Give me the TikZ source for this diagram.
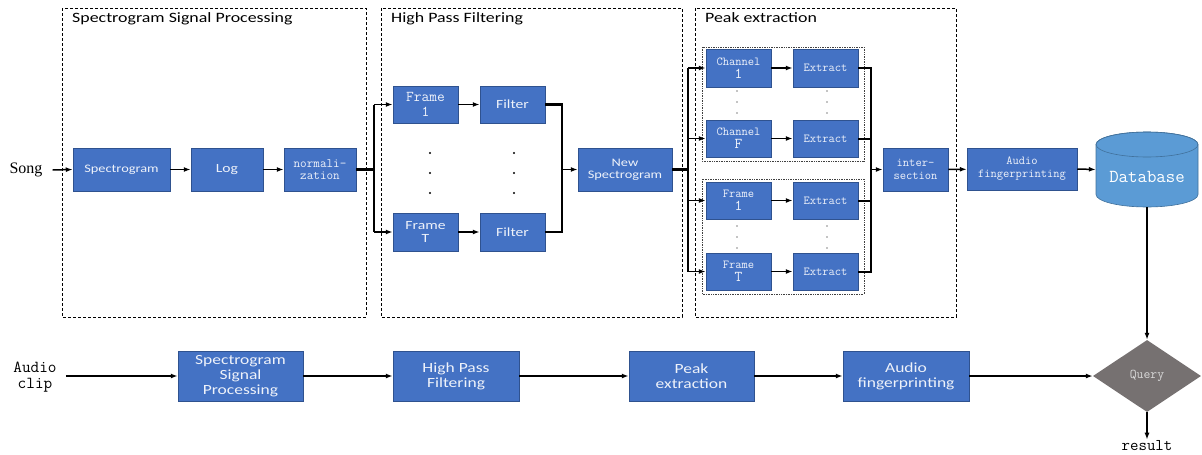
\documentclass[tikz,border=0pt]{standalone}
\usepackage{fontspec}
\setmainfont{Liberation Serif}
\newfontfamily\uisans[FakeStretch=1.25]{Carlito}
\usetikzlibrary{arrows.meta,shapes.geometric}

\definecolor{boxblue}{HTML}{4472C4}
\definecolor{boxedge}{HTML}{2F528F}
\definecolor{dbblue}{HTML}{5B9BD5}
\definecolor{dbedge}{HTML}{41719C}
\definecolor{querygray}{HTML}{767171}
\definecolor{boxtext}{HTML}{EEF2FA}

\begin{document}
\begin{tikzpicture}[x=1pt,y=-1pt,
  proc/.style={fill=boxblue, draw=boxedge, line width=0.5pt, text=boxtext,
    align=center, inner sep=0pt},
  wh/.style 2 args={minimum width=#1pt, minimum height=#2pt},
  sansS/.style={font=\uisans\fontsize{11.5}{12}\selectfont},
  sansM/.style={font=\uisans\fontsize{12.5}{13}\selectfont},
  sansL/.style={font=\uisans\fontsize{14}{15}\selectfont},
  monoS/.style={font=\ttfamily\fontsize{12.2}{13}\selectfont},
  monoM/.style={font=\ttfamily\fontsize{12.8}{12}\selectfont},
  title/.style={font=\uisans\fontsize{14.3}{15}\selectfont, anchor=base west, inner sep=0pt},
  stage/.style={draw, dashed, dash pattern=on 3pt off 2pt, line width=1pt},
  group/.style={draw=black!75, densely dotted, line width=0.7pt},
  arr/.style={-{Latex[length=7pt,width=5pt]}, line width=1.5pt},
  bus/.style={line width=2.4pt},
  dot/.style={fill=black}
]
\useasboundingbox (0,0) rectangle (1202,455);

% ---------- stage frames ----------
\draw[stage] (62,8) rectangle (366,317);
\draw[stage] (381,8) rectangle (682,317);
\draw[stage] (695,8) rectangle (956,317);
\node[title] at (72,23) {Spectrogram Signal Processing};
\node[title] at (391,23) {High Pass Filtering};
\node[title] at (705,23) {Peak extraction};

% ---------- spectrogram signal processing ----------
\node[font=\fontsize{16}{16}\selectfont, inner sep=0pt] (song) at (26,170) {Song};
\node[proc, wh={97}{43}, sansS] (spec) at (121.5,169.5) {Spectrogram};
\node[proc, wh={72}{43}, sansM] (log) at (227,169.5) {Log};
\node[proc, wh={72}{43}, monoM] (norm) at (320,169.5) {normali-\\zation};

\draw[arr] ([xshift=10pt]song.east) -- (spec.west);
\draw[arr] (spec) -- (log);
\draw[arr] (log) -- (norm);

% ---------- high pass filtering ----------
\node[proc, wh={65}{37}, font=\ttfamily\fontsize{15}{14.5}\selectfont] (f1) at (425.5,104.5) {Frame\\1};
\node[proc, wh={65}{37}, sansM] (fil1) at (512.5,104.5) {Filter};
\node[proc, wh={65}{38}, sansM] (fT) at (425.5,232) {Frame\\T};
\node[proc, wh={65}{38}, sansM] (filT) at (512.5,232) {Filter};
\node[proc, wh={94}{43}, sansS] (newspec) at (625,169.5) {New\\Spectrogram};

\foreach \yy in {153,173,193} {
  \fill[dot] (430,\yy) circle (1.1pt);
  \fill[dot] (514,\yy) circle (1.1pt);
}

\coordinate (b1) at (374,169.5);
\coordinate (m1) at (562,169.5);
\draw[bus] (norm.east) -- (b1);
\draw[bus] (b1 |- f1.west) -- (b1 |- fT.west);
\draw[arr] (b1 |- f1.west) -- (f1.west);
\draw[arr] (b1 |- fT.west) -- (fT.west);
\draw[arr] (f1) -- (fil1);
\draw[arr] (fT) -- (filT);
\draw[bus] (fil1.east) -| (m1);
\draw[bus] (filT.east) -| (m1);
\draw[arr] (m1) -- (newspec.west);

% ---------- peak extraction ----------
\draw[group] (702,47) rectangle (864,161);
\draw[group] (702,179) rectangle (864,294);

\node[proc, wh={65}{38}, monoS] (ch1) at (738.5,68) {Channel\\{\fontsize{15}{13}\selectfont 1}};
\node[proc, wh={65}{38}, monoS] (ex1) at (825.5,68) {Extract};
\node[proc, wh={65}{37}, monoS] (chF) at (738.5,138.5) {Channel\\{\fontsize{15}{13}\selectfont F}};
\node[proc, wh={65}{37}, monoS] (exF) at (825.5,138.5) {Extract};
\node[proc, wh={65}{37}, monoS] (fr1) at (738.5,200.5) {Frame\\{\fontsize{15}{13}\selectfont 1}};
\node[proc, wh={65}{37}, monoS] (exr1) at (825.5,200.5) {Extract};
\node[proc, wh={65}{37}, monoS] (frT) at (738.5,271.5) {Frame\\{\fontsize{15}{13}\selectfont T}};
\node[proc, wh={65}{37}, monoS] (exrT) at (825.5,271.5) {Extract};
\node[proc, wh={65}{43}, monoS] (inter) at (915.5,169.5) {inter-\\section};

\foreach \yy in {91,102,113,226,237,248} {
  \fill[dot] (737,\yy) circle (0.7pt);
  \fill[dot] (827,\yy) circle (0.7pt);
}

\coordinate (b2) at (688,169.5);
\coordinate (m2) at (871,169.5);
\draw[bus] (newspec.east) -- (b2);
\draw[bus] (b2 |- ch1.west) -- (b2 |- frT.west);
\foreach \n in {ch1,chF,fr1,frT} {
  \draw[arr] (b2 |- \n.west) -- (\n.west);
}
\draw[arr] (ch1) -- (ex1);
\draw[arr] (chF) -- (exF);
\draw[arr] (fr1) -- (exr1);
\draw[arr] (frT) -- (exrT);
\foreach \n in {ex1,exF,exr1,exrT} {
  \draw[line width=2pt] (\n.east) -| (m2);
}
\draw[bus] (m2 |- ex1.east) -- (m2 |- exrT.east);
\draw[arr] (m2) -- (inter.west);

% ---------- fingerprint and database ----------
\node[proc, wh={110}{42}, monoS] (afp) at (1022,169) {Audio\\fingerprinting};
\draw[arr] (inter) -- (afp);

\node[wh={102}{75}, inner sep=0pt] (db) at (1147,169.5) {};
\path[fill=dbblue, draw=dbedge, line width=0.6pt]
  (1096,144.5) -- (1096,194.5)
  arc[start angle=180, end angle=360, x radius=51pt, y radius=12.5pt]
  -- (1198,144.5)
  arc[start angle=0, end angle=180, x radius=51pt, y radius=12.5pt] -- cycle;
\draw[dbedge, line width=0.6pt] (1147,144.5) ellipse[x radius=51pt, y radius=12.5pt];
\node[font=\ttfamily\fontsize{18.3}{18}\selectfont, text=white, inner sep=0pt] at (1147,177) {Database};
\draw[arr] (afp.east) -- (db.west);

\node[diamond, fill=querygray, text=black!15, inner sep=0pt, aspect=1.5,
  minimum width=108pt, minimum height=72pt, font=\ttfamily\fontsize{13.3}{13}\selectfont] (query) at (1147,376) {Query};
\draw[arr] (db.south) -- (query.north);
\node[font=\ttfamily\fontsize{16.4}{16}\selectfont, inner sep=1pt] (result) at (1147,446) {result};
\draw[arr] (query.south) -- (result.north);

% ---------- query path ----------
\node[font=\ttfamily\fontsize{16.8}{15.5}\selectfont, align=center, inner sep=0pt] (clip) at (35,377) {Audio\\clip};
\node[proc, wh={125}{50}, sansL] (ssp) at (240.5,376) {Spectrogram\\Signal\\Processing};
\node[proc, wh={126}{50}, sansL] (hpf) at (456,376) {High Pass\\Filtering};
\node[proc, wh={125}{50}, sansL] (pe) at (691.5,376) {Peak\\extraction};
\node[proc, wh={126}{50}, sansL] (afp2) at (906,376) {Audio\\fingerprinting};

\draw[arr] ([xshift=9pt]clip.east |- ssp.west) -- (ssp.west);
\draw[arr] (ssp) -- (hpf);
\draw[arr] (hpf) -- (pe);
\draw[arr] (pe) -- (afp2);
\draw[arr] (afp2.east) -- (query.west);
\end{tikzpicture}
\end{document}
